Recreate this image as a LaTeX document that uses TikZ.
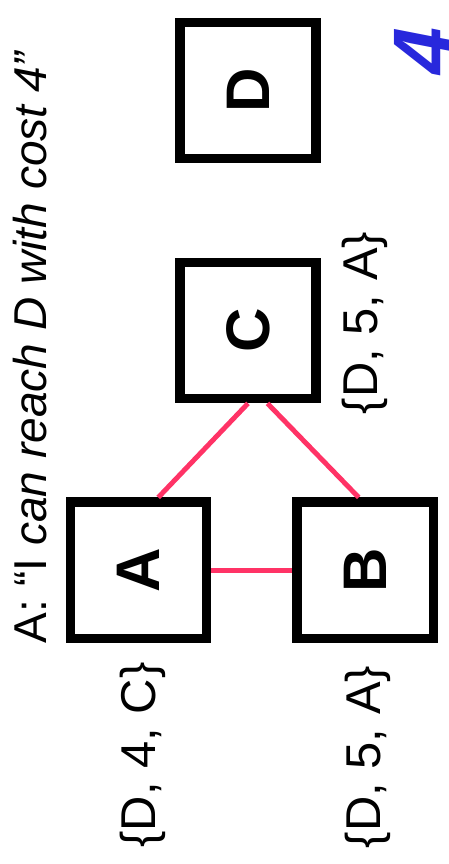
\documentclass[tikz,border=0pt]{standalone}
\usepackage{fontspec}
\setmainfont{Liberation Sans}
\usetikzlibrary{positioning}

\definecolor{linkpink}{HTML}{FF3366}
\definecolor{costblue}{HTML}{2828DC}

\begin{document}
\begin{tikzpicture}[
  x=0.01cm, y=-0.01cm,
  router/.style={draw, line width=2.6pt, line join=miter, minimum size=1.36cm, inner sep=0pt,
                 font=\fontsize{17.5}{20}\selectfont\bfseries},
  vec/.style={rotate=90, anchor=base, inner sep=0pt, font=\fontsize{13.9}{16}\selectfont},
  link/.style={linkpink, line width=1.4pt}
]
\useasboundingbox (0,0) rectangle (448,864);

% routers
\node[router] (D) at (248,90.5) {\rotatebox{90}{D}};
\node[router, below=0.95cm of D] (C) {\rotatebox{90}{C}};
\node[router, below left=0.94cm and -0.36cm of C] (A) {\rotatebox{90}{A}};
\node[router, right=0.81cm of A] (B) {\rotatebox{90}{B}};

% distance vectors
\node[vec] (vA) at (155,755) {\{D, 4, C\}};
\node[vec] (vB) at (380,757) {\{D, 5, A\}};
\node[vec] (vC) at (377,323) {\{D, 5, A\}};

% advertisement and cost
\node[vec, font=\fontsize{13.1}{15}\selectfont] (msg) at (47,346.5)
  {A: “I \textit{can reach D with cost 4”}};
\node[vec, text=costblue, font=\fontsize{24}{28}\selectfont\bfseries\itshape] (cost) at (452,51) {4};

% links
\draw[link] (A.75) -- (C.south);
\draw[link] (C.-75) -- (B.95);
\draw[link] (A.east) -- (B.west);
\end{tikzpicture}
\end{document}
